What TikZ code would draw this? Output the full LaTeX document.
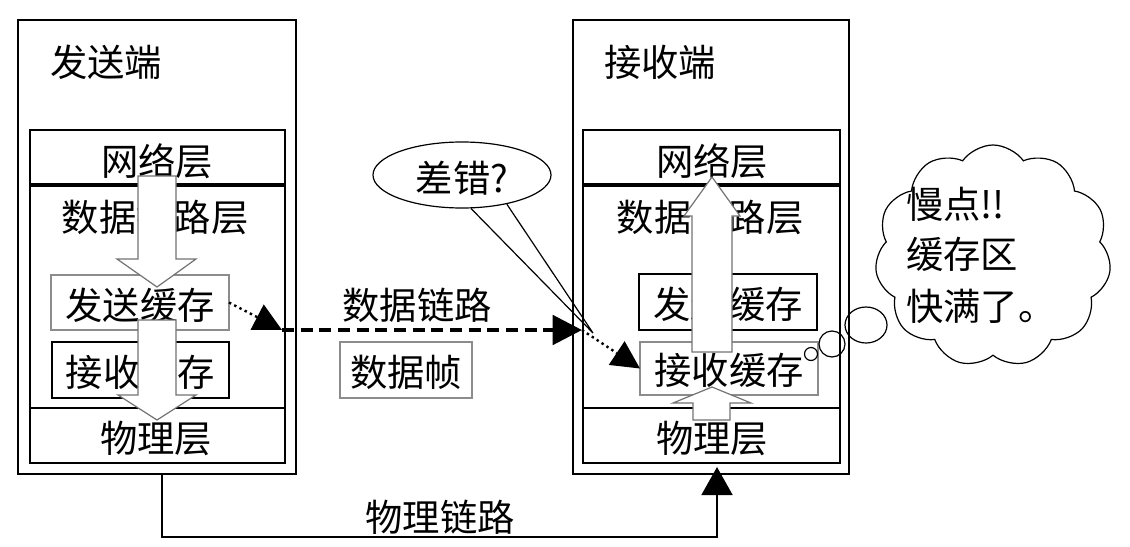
\documentclass[tikz,border=0pt]{standalone}
\usepackage{fontspec}
\newfontfamily\cjk{Noto Sans CJK SC}
\usetikzlibrary{arrows.meta,shapes.geometric,shapes.symbols}
\begin{document}
\begin{tikzpicture}[x=0.75pt,y=-0.75pt,
  lbl/.style={font=\cjk\fontsize{28}{37.5}\selectfont, inner sep=0, outer sep=0},
  wh/.style 2 args={minimum width=#1*0.75pt, minimum height=#2*0.75pt},
  box/.style={draw, line width=1.5pt, inner sep=0, outer sep=0, rectangle},
  gbox/.style={draw=black!45, line width=1.5pt, inner sep=0, outer sep=0, rectangle},
  hollow/.style={draw=black!55, fill=white, line width=0.9pt, line join=miter},
  dotline/.style={line width=1.8pt, dash pattern=on 1.8pt off 2.6pt},
  dashline/.style={line width=3pt, dash pattern=on 9pt off 5pt},
  thin/.style={line width=0.9pt},
  ]
\useasboundingbox (0,0) rectangle (1130,546);

% ---------------- sender ----------------
\node[box, wh={278}{454}] (sender) at (157,247) {};
\node[lbl] (senderT) at (106,62) {发送端};
\node[box, wh={255}{55}] (netL) at (157.5,157.5) {};
\node[box, wh={255}{223}] (dllL) at (157.5,296.5) {};
\node[box, wh={255}{55}] (phyL) at (157.5,435.5) {};
\draw[line width=2.6pt] (netL.south west) -- (netL.south east);
\node[lbl] (netLT) at (157,161) {网络层};
\node[lbl] (dllLT) at (155,217) {数据链路层};
\node[lbl] (phyLT) at (156,438) {物理层};
\node[gbox, wh={178}{55}] (sbufL) at (140,302.5) {};
\node[lbl] (sbufLT) at (140,305) {发送缓存};
\node[box, wh={177}{56}] (rbufL) at (140.5,370) {};
\node[lbl] (rbufLT) at (140.5,372) {接收缓存};
% hollow down arrows
\draw[hollow] (138,176) -- (138,259) -- (117,259) -- (157,287) -- (196,259) -- (176,259) -- (176,176) -- cycle;
\draw[hollow] (138,320) -- (138,395) -- (118,395) -- (157,420) -- (196,395) -- (176,395) -- (176,320) -- cycle;

% ---------------- receiver ----------------
\node[box, wh={276}{454}] (receiver) at (711,247) {};
\node[lbl] (receiverT) at (660,62) {接收端};
\node[box, wh={257}{55}] (netR) at (711.5,157.5) {};
\node[box, wh={257}{223}] (dllR) at (711.5,296.5) {};
\node[box, wh={257}{55}] (phyR) at (711.5,435.5) {};
\draw[line width=2.6pt] (netR.south west) -- (netR.south east);
\node[lbl] (netRT) at (712,161) {网络层};
\node[lbl] (dllRT) at (710,217) {数据链路层};
\node[lbl] (phyRT) at (712,438) {物理层};
\node[box, wh={178}{56}] (sbufR) at (728,302) {};
\node[lbl] (sbufRT) at (728,304) {发送缓存};
\node[gbox, wh={178}{53}] (rbufR) at (729,368.5) {};
\node[lbl] (rbufRT) at (729,370) {接收缓存};
% hollow up arrows
\draw[hollow] (692,352) -- (692,216) -- (684,216) -- (712,177) -- (740,216) -- (732,216) -- (732,352) -- cycle;
\draw[hollow] (693,420) -- (693,403) -- (673,403) -- (712,387) -- (751,403) -- (730,403) -- (730,420) -- cycle;

% ---------------- data link ----------------
\coordinate (dlA) at (282,330);
\coordinate (dlB) at (582,330);
\draw[dotline, -{Triangle[length=21pt,width=21pt]}] (sbufL.east) -- (dlA);
\draw[dashline, -{Triangle[length=22pt,width=22pt]}] (dlA) -- (dlB);
\draw[dotline, -{Triangle[length=21pt,width=21pt]}] (dlB) -- (rbufR.west);
\node[lbl] (dlT) at (417,305) {数据链路};
\node[gbox, wh={132}{56}] (frame) at (406,370) {};
\node[lbl] (frameT) at (406,372) {数据帧};

% error callout
\node[ellipse, draw, thin, fill=white, wh={178}{66}, inner sep=0] (err) at (462,175) {};
\node[lbl] (errT) at (462,178) {差错?};
\coordinate (errTip) at (593,333);
\draw[thin] (err.-75) -- (errTip) -- (err.-33);

% ---------------- physical link ----------------
\coordinate (plS) at (162,474);
\coordinate (plE) at (717,467);
\draw[line width=2.2pt, -{Triangle[length=21pt,width=23pt]}] (plS) -- ++(0,63) -| (plE);
\node[lbl] (plT) at (440,517) {物理链路};

% ---------------- thought cloud ----------------
\node[cloud, draw, thin, cloud puffs=11, cloud puff arc=110, cloud ignores aspect, wh={236}{222}, inner sep=0] (cloud) at (993,256) {};
\node[circle, draw, thin, minimum size=13*0.75pt, inner sep=0] (b1) at (811,354) {};
\node[circle, draw, thin, minimum size=26*0.75pt, inner sep=0] (b2) at (832,344) {};
\node[ellipse, draw, thin, wh={42}{36}, inner sep=0] (b3) at (866,325) {};
\node[lbl, anchor=west] (cloudT1) at (906,204) {慢点!!};
\node[lbl, anchor=west] (cloudT2) at (906,254) {缓存区};
\node[lbl, anchor=west] (cloudT3) at (906,306) {快满了。};
\end{tikzpicture}
\end{document}
